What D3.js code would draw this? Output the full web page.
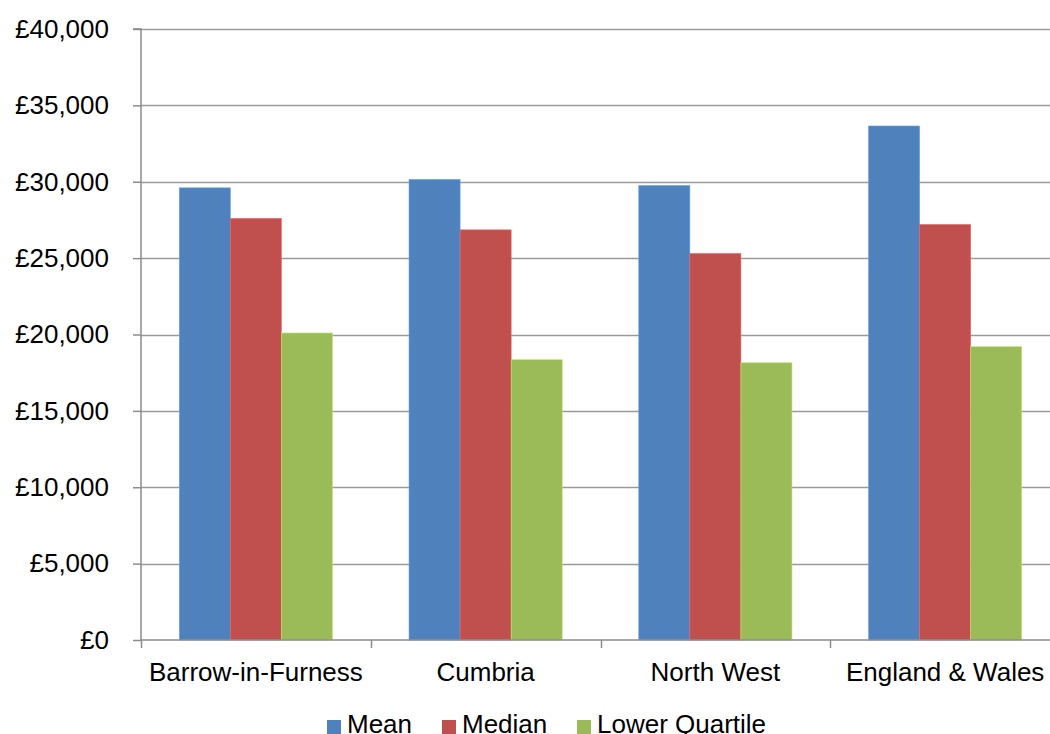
<!DOCTYPE html>
<html><head><meta charset="utf-8">
<script src="https://cdn.jsdelivr.net/npm/d3@7"></script>
<style>body{margin:0;background:#fff;}svg{display:block;font-family:"Liberation Sans",Arial,sans-serif;}</style>
</head><body>
<svg id="c" width="1050" height="734"></svg>
<script>
const categories = ["Barrow-in-Furness","Cumbria","North West","England & Wales"];
const seriesNames = ["Mean","Median","Lower Quartile"];
const meanValues = [29600, 30150, 29750, 33650];
const medianValues = [27600, 26850, 25300, 27200];
const lowerQuartileValues = [20100, 18350, 18150, 19200];
const yTicks = [0,5000,10000,15000,20000,25000,30000,35000,40000];
const colors = ["#4F81BD","#C0504D","#9BBB59"];

(function(){
const seriesValues = [meanValues, medianValues, lowerQuartileValues];
const svg = d3.select("#c");
const mLeft = 141, mRight = 1060, mTop = 29, mBottom = 640;
const fontSize = 26;
const x = d3.scaleBand().domain(categories).range([mLeft, mRight]).paddingInner(0).paddingOuter(0);
const y = d3.scaleLinear().domain([0, 40000]).range([mBottom, mTop]);
const gapRatio = 1.5;
const barW = x.bandwidth() / (seriesNames.length + gapRatio);
const xs = d3.scaleBand().domain(seriesNames).range([barW*gapRatio/2, x.bandwidth()-barW*gapRatio/2]);

// gridlines
svg.append("g").selectAll("line").data(yTicks.filter(d=>d>0)).join("line")
  .attr("x1", mLeft).attr("x2", 1050).attr("y1", d=>Math.round(y(d))+0.5).attr("y2", d=>Math.round(y(d))+0.5)
  .attr("stroke", "#9a9a9a").attr("stroke-width", 1.5);

// bars
seriesNames.forEach((s, si) => {
  svg.append("g").selectAll("rect").data(categories).join("rect")
    .attr("x", c => x(c) + xs(s))
    .attr("width", xs.bandwidth())
    .attr("y", (c,i) => y(seriesValues[si][i]))
    .attr("height", (c,i) => mBottom - y(seriesValues[si][i]))
    .attr("fill", colors[si])
    .attr("stroke", d3.color(colors[si]).brighter(0.6)).attr("stroke-width", 0.6);
});

// y axis
const yAxis = d3.axisLeft(y).tickValues(yTicks).tickSize(8).tickPadding(24)
  .tickFormat(d => "£" + d3.format(",")(d));
const gy = svg.append("g").attr("transform", `translate(${mLeft},0)`).call(yAxis);
gy.select(".domain").attr("stroke", "#8c8c8c").attr("stroke-width", 1.5).attr("d", `M-8,${mTop}H0V${mBottom}`);
gy.selectAll(".tick line").attr("stroke", "#8c8c8c").attr("stroke-width", 1.5);
gy.selectAll(".tick text").attr("font-size", fontSize).attr("fill", "#000").attr("font-family", "'Liberation Sans',Arial,sans-serif");

// x axis
const gx = svg.append("g").attr("transform", `translate(0,${mBottom})`)
  .call(d3.axisBottom(x).tickSize(0).tickPadding(23));
gx.select(".domain").attr("stroke", "#8c8c8c").attr("stroke-width", 1.5).attr("d", `M${mLeft},0H1050`);
gx.selectAll(".tick text").attr("font-size", fontSize).attr("fill", "#000").attr("font-family", "'Liberation Sans',Arial,sans-serif");
svg.append("g").selectAll("line").data(categories).join("line")
  .attr("x1", c => Math.round(x(c))+0.5).attr("x2", c => Math.round(x(c))+0.5)
  .attr("y1", mBottom).attr("y2", mBottom+8).attr("stroke", "#8c8c8c").attr("stroke-width", 1.5);

// legend
const legendX = [327, 442, 577];
const lg = svg.append("g");
seriesNames.forEach((s, i) => {
  lg.append("rect").attr("x", legendX[i]).attr("y", 720).attr("width", 14).attr("height", 14).attr("fill", colors[i]);
  lg.append("text").attr("x", legendX[i]+20).attr("y", 733).attr("font-size", fontSize).attr("fill", "#000").text(s);
});
})();
</script>
</body></html>
